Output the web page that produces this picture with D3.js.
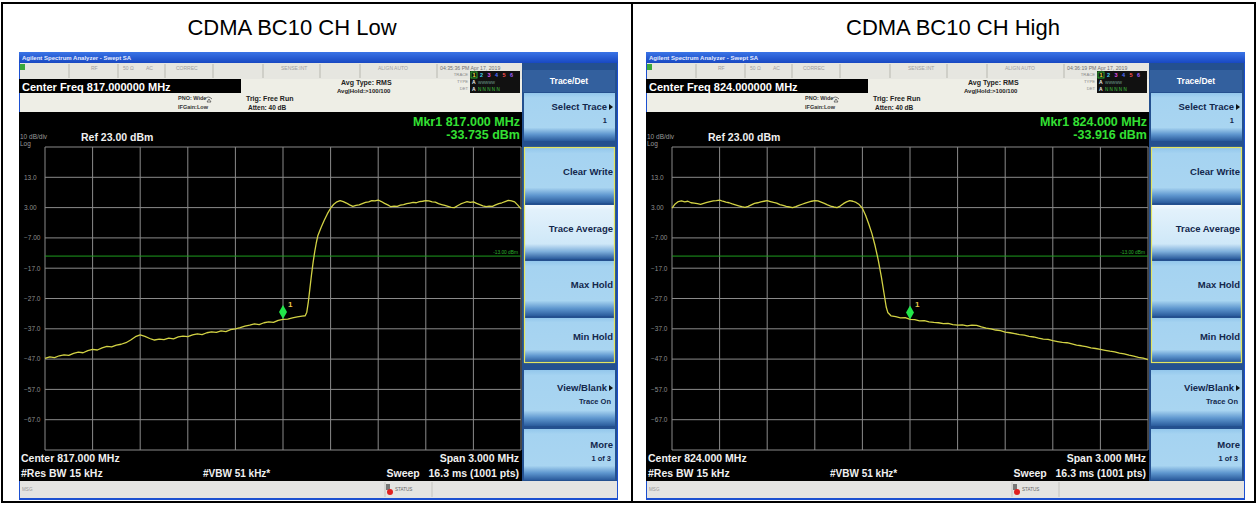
<!DOCTYPE html>
<html>
<head>
<meta charset="utf-8">
<script src="https://cdn.jsdelivr.net/npm/d3@7"></script>
<style>
  body { margin: 0; background: #fff; }
  svg { display: block; font-family: "Liberation Sans", Arial, sans-serif; }
</style>
</head>
<body>
<svg></svg>
<script>
// chart values
var titles = ["CDMA BC10 CH Low", "CDMA BC10 CH High"];
var centers = [817.0, 824.0];
var mkrLevels = [-33.735, -33.916];
var stamps = ["04:35:36 PM Apr 17, 2019", "04:36:19 PM Apr 17, 2019"];
var refLevel = 23;
var limitLevel = -13;
var spanMHz = 3.0;
var yTicks = [13, 3, -7, -17, -27, -37, -47, -57, -67];
var softLabels = [["Select Trace", "1"], ["Clear Write"], ["Trace Average"], ["Max Hold"],
                  ["Min Hold"], ["View/Blank", "Trace On"], ["More", "1 of 3"]];

// [MHz, dBm]
var lowTrace = [
  [815.50,-46.8],[815.53,-46.3],[815.56,-46.5],[815.59,-45.9],[815.62,-45.6],[815.65,-45.8],
  [815.68,-45.1],[815.71,-44.7],[815.74,-44.9],[815.77,-44.2],[815.80,-43.8],[815.83,-44.0],
  [815.86,-43.3],[815.89,-42.8],[815.92,-43.0],[815.95,-42.4],[815.98,-42.1],[816.01,-41.6],
  [816.04,-40.7],[816.07,-39.6],[816.10,-39.0],[816.13,-39.5],[816.16,-40.2],[816.19,-40.7],
  [816.22,-40.4],[816.25,-40.6],[816.28,-40.1],[816.31,-40.3],[816.34,-39.7],[816.37,-39.4],
  [816.40,-39.6],[816.43,-39.0],[816.46,-38.7],[816.49,-38.9],[816.52,-38.3],[816.55,-38.0],
  [816.58,-38.2],[816.61,-37.7],[816.64,-37.9],[816.67,-37.3],[816.70,-37.0],[816.73,-36.6],
  [816.76,-36.1],[816.79,-35.8],[816.82,-35.4],[816.85,-35.6],[816.88,-35.0],[816.91,-34.7],
  [816.94,-34.9],[816.97,-34.2],[817.00,-33.9],[817.03,-33.8],[817.06,-33.4],[817.09,-33.1],
  [817.12,-32.8],[817.14,-32.7],[817.15,-31.5],[817.16,-28.0],[817.17,-23.5],[817.18,-19.0],
  [817.19,-15.0],[817.20,-11.5],[817.21,-8.6],[817.22,-6.2],[817.24,-3.6],[817.26,-1.2],
  [817.28,1.0],[817.30,2.8],[817.32,4.1],[817.34,4.9],[817.36,5.3],[817.38,5.0],[817.40,4.5],
  [817.42,3.9],[817.44,3.4],[817.46,3.7],[817.48,3.9],[817.50,4.3],[817.52,4.7],[817.54,4.9],
  [817.56,5.3],[817.58,5.2],[817.60,5.5],[817.62,5.0],[817.64,4.4],[817.66,3.9],[817.68,3.3],
  [817.70,3.5],[817.72,3.4],[817.74,3.8],[817.76,4.0],[817.78,4.3],[817.80,4.5],[817.82,4.7],
  [817.84,4.6],[817.86,5.0],[817.88,5.1],[817.90,5.3],[817.92,5.2],[817.94,4.9],[817.96,4.8],
  [817.98,4.3],[818.00,4.0],[818.02,3.7],[818.04,3.4],[818.06,3.1],[818.08,3.0],[818.10,3.6],
  [818.12,4.2],[818.14,4.6],[818.16,5.0],[818.18,4.7],[818.20,4.9],[818.22,4.4],[818.24,4.0],
  [818.26,3.6],[818.28,3.3],[818.30,3.5],[818.32,3.4],[818.34,3.9],[818.36,4.3],[818.38,4.6],
  [818.40,5.0],[818.42,5.4],[818.44,5.2],[818.46,4.9],[818.48,3.8],[818.50,2.6]
];

var highTrace = [
  [822.50,2.8],[822.52,4.2],[822.54,5.0],[822.56,5.2],[822.58,4.9],[822.60,5.1],[822.62,4.6],
  [822.64,4.5],[822.66,4.3],[822.68,4.1],[822.70,4.4],[822.72,4.7],[822.74,5.0],[822.76,5.2],
  [822.78,5.3],[822.80,5.5],[822.82,5.1],[822.84,4.8],[822.86,4.6],[822.88,4.2],[822.90,3.9],
  [822.92,3.6],[822.94,3.3],[822.96,3.1],[822.98,3.4],[823.00,3.9],[823.02,4.4],[823.04,4.6],
  [823.06,4.9],[823.08,5.1],[823.10,5.3],[823.12,5.0],[823.14,4.7],[823.16,4.5],[823.18,4.0],
  [823.20,3.7],[823.22,3.4],[823.24,3.2],[823.26,3.0],[823.28,3.3],[823.30,3.7],[823.32,4.1],
  [823.34,4.5],[823.36,4.8],[823.38,5.1],[823.40,5.3],[823.42,5.2],[823.44,4.8],[823.46,4.4],
  [823.48,3.9],[823.50,3.5],[823.52,3.2],[823.54,3.0],[823.56,3.5],[823.58,4.3],[823.60,4.9],
  [823.62,5.3],[823.64,5.1],[823.66,4.7],[823.68,4.0],[823.70,2.8],[823.72,0.5],[823.74,-2.4],
  [823.76,-5.6],[823.78,-9.6],[823.80,-14.3],[823.82,-20.0],[823.84,-26.5],[823.85,-29.8],
  [823.86,-31.6],[823.88,-32.7],[823.91,-33.0],[823.94,-33.4],[823.97,-33.3],[824.00,-33.9],
  [824.03,-34.0],[824.06,-34.4],[824.09,-34.3],[824.12,-34.7],[824.15,-34.9],[824.18,-35.0],
  [824.21,-35.3],[824.24,-35.2],[824.27,-35.6],[824.30,-35.8],[824.33,-35.7],[824.36,-36.0],
  [824.39,-35.8],[824.42,-35.9],[824.45,-36.4],[824.48,-36.8],[824.51,-37.0],[824.54,-37.4],
  [824.57,-37.6],[824.60,-38.1],[824.63,-38.3],[824.66,-38.6],[824.69,-38.9],[824.72,-39.1],
  [824.75,-39.5],[824.78,-39.7],[824.81,-40.1],[824.84,-40.4],[824.87,-40.5],[824.90,-40.9],
  [824.93,-41.2],[824.96,-41.5],[824.99,-41.6],[825.02,-42.0],[825.05,-42.4],[825.08,-42.6],
  [825.11,-42.9],[825.14,-43.3],[825.17,-43.5],[825.20,-43.8],[825.23,-44.1],[825.26,-44.4],
  [825.29,-44.6],[825.32,-45.0],[825.35,-45.3],[825.38,-45.7],[825.41,-46.0],[825.44,-46.4],
  [825.47,-46.7],[825.50,-47.2]
];
var traces = [lowTrace, highTrace];

// layout of one screen (left one), right one is shifted
var config = {
  w: 1258, h: 505,
  scrL: 19, scrR: 618, scrT: 52, scrB: 500,
  gx0: 45, gx1: 521, gy0: 147, gy1: 450
};
var offsets = [0, 627];
var titleX = [292, 953];
var keyBoxes = [[93, 141], [148, 203], [205, 259], [261, 316], [318, 362], [370, 426], [429, 480]];

function translate(x, y) { return "translate(" + x + "," + y + ")"; }

var svg = d3.select("svg").attr("width", config.w).attr("height", config.h);

// gradients for the soft keys
var defs = svg.append("defs");
function grad(id, stops) {
  var lg = defs.append("linearGradient").attr("id", id)
    .attr("x1", 0).attr("y1", 0).attr("x2", 0).attr("y2", 1);
  stops.forEach(function(s) {
    lg.append("stop").attr("offset", s[0]).attr("stop-color", s[1]);
  });
}
grad("btn", [["0%", "#93c7ec"], ["10%", "#a5d3f1"], ["72%", "#a9d5f1"], ["86%", "#5f97cf"], ["100%", "#2a5b9c"]]);
grad("btnSel", [["0%", "#f4fafe"], ["10%", "#e2f1fb"], ["72%", "#cfe8f8"], ["86%", "#7fb0dc"], ["100%", "#2a5b9c"]]);
grad("bar", [["0%", "#3a74e6"], ["100%", "#1848c2"]]);

// outer table frame
svg.append("rect")
  .attr("x", 2).attr("y", 3).attr("width", 1253).attr("height", 499)
  .attr("fill", "none").attr("stroke", "#000").attr("stroke-width", 2);
svg.append("line")
  .attr("x1", 632).attr("x2", 632).attr("y1", 3).attr("y2", 502)
  .attr("stroke", "#000").attr("stroke-width", 2);

titles.forEach(function(t, i) {
  svg.append("text")
    .attr("x", titleX[i]).attr("y", 35)
    .attr("text-anchor", "middle")
    .style("font-size", "22px")
    .text(t);
  drawPanel(i);
});

function txt(g, x, y, s, size, fill, weight, anchor) {
  return g.append("text")
    .attr("x", x).attr("y", y)
    .attr("text-anchor", anchor || "start")
    .style("font-size", size + "px")
    .style("font-weight", weight || "normal")
    .attr("fill", fill)
    .text(s);
}

function drawPanel(i) {
  var g = svg.append("g").attr("transform", translate(offsets[i], 0));
  var c = centers[i];

  var x = d3.scaleLinear()
    .domain([c - spanMHz / 2, c + spanMHz / 2])
    .range([config.gx0, config.gx1]);
  var y = d3.scaleLinear()
    .domain([refLevel - 100, refLevel])
    .range([config.gy1, config.gy0]);

  // window frame + title bar
  g.append("rect").attr("x", config.scrL).attr("y", config.scrT)
    .attr("width", config.scrR - config.scrL).attr("height", config.scrB - config.scrT)
    .attr("fill", "#1b4fd0");
  g.append("rect").attr("x", config.scrL).attr("y", config.scrT)
    .attr("width", config.scrR - config.scrL).attr("height", 11)
    .attr("fill", "url(#bar)");
  txt(g, 22, 60, "Agilent Spectrum Analyzer - Swept SA", 6, "#e6ecff", "bold");

  // status row
  g.append("rect").attr("x", 20).attr("y", 63).attr("width", 502).attr("height", 16).attr("fill", "#e6e6e0");
  g.append("rect").attr("x", 20).attr("y", 64).attr("width", 5).attr("height", 6).attr("fill", "#3aa83a");
  [69, 118, 165, 213, 263, 320, 360, 437].forEach(function(sx) {
    g.append("line").attr("x1", sx).attr("x2", sx).attr("y1", 64).attr("y2", 78)
      .attr("stroke", "#b8b8b0");
  });
  [[91, "RF"], [123, "50 \u03a9"], [146, "AC"], [176, "CORREC"], [281, "SENSE:INT"], [378, "ALIGN AUTO"]]
    .forEach(function(s) { txt(g, s[0], 70, s[1], 5, "#a0a0a0"); });
  txt(g, 440, 70, stamps[i], 5.2, "#707070");

  // header area
  g.append("rect").attr("x", 20).attr("y", 79).attr("width", 502).attr("height", 33).attr("fill", "#eeeee6");
  g.append("rect").attr("x", 19).attr("y", 79).attr("width", 222).attr("height", 14).attr("fill", "#000");
  txt(g, 22, 90.5, "Center Freq " + c.toFixed(6) + " MHz", 11, "#fff", "bold");
  txt(g, 178, 100, "PNO: Wide", 5.5, "#333", "bold");
  txt(g, 178, 109, "IFGain:Low", 5.5, "#333", "bold");
  g.append("path").attr("d", "M205,99 q3,-4 7,0 M209,99 l-2,3 l4,0 z")
    .attr("fill", "none").attr("stroke", "#555").attr("stroke-width", 0.8);
  txt(g, 246, 101, "Trig: Free Run", 7, "#222", "bold");
  txt(g, 248, 110, "Atten: 40 dB", 6.5, "#222", "bold");
  txt(g, 341, 85, "Avg Type: RMS", 7, "#222", "bold");
  txt(g, 337, 93, "Avg|Hold:>100/100", 6, "#222", "bold");

  // trace indicator box
  txt(g, 468, 76, "TRACE", 4.2, "#888", "normal", "end");
  txt(g, 468, 83, "TYPE", 4.2, "#888", "normal", "end");
  txt(g, 468, 90, "DET", 4.2, "#888", "normal", "end");
  g.append("rect").attr("x", 470).attr("y", 71).attr("width", 50).attr("height", 22).attr("fill", "#111");
  g.append("rect").attr("x", 471).attr("y", 72).attr("width", 6).attr("height", 6)
    .attr("fill", "none").attr("stroke", "#3c3").attr("stroke-width", 0.8);
  ["#e8e8e8", "#44d0f0", "#e050e0", "#5070ff", "#ff5050", "#a060ff"].forEach(function(col, k) {
    txt(g, 472.5 + k * 7.5, 77, String(k + 1), 5.5, k === 0 ? "#e8e040" : col, "bold");
  });
  txt(g, 472, 84, "A", 5, "#eee", "bold");
  txt(g, 478, 84, "WWWWW", 3.6, "#7a9", "normal");
  txt(g, 472, 91, "A", 5, "#eee", "bold");
  txt(g, 478, 91, "N N N N N", 4.6, "#4c4", "normal");

  // screen
  g.append("rect").attr("x", 19).attr("y", 112).attr("width", 504).attr("height", 369).attr("fill", "#000");
  txt(g, 20, 139, "10 dB/div", 6.5, "#9a9a9a");
  txt(g, 20, 146, "Log", 6.5, "#9a9a9a");
  txt(g, 81, 141, "Ref " + refLevel.toFixed(2) + " dBm", 10.5, "#f0f0f0", "bold");
  txt(g, 520, 126, "Mkr1 " + c.toFixed(3) + " MHz", 12.5, "#34e034", "bold", "end");
  txt(g, 520, 139, mkrLevels[i].toFixed(3) + " dBm", 12.5, "#34e034", "bold", "end");

  // grid
  var grid = g.append("g").attr("class", "grid");
  var vt = d3.range(11).map(function(k) { return c - spanMHz / 2 + k * spanMHz / 10; });
  grid.selectAll("line.v").data(vt).enter().append("line")
    .attr("x1", x).attr("x2", x)
    .attr("y1", config.gy0).attr("y2", config.gy1)
    .attr("stroke", "#8a8a8a").attr("stroke-width", 1);
  var ht = [refLevel].concat(yTicks, [refLevel - 100]);
  grid.selectAll("line.h").data(ht).enter().append("line")
    .attr("x1", config.gx0).attr("x2", config.gx1)
    .attr("y1", y).attr("y2", y)
    .attr("stroke", "#8a8a8a").attr("stroke-width", 1);
  grid.selectAll("text").data(yTicks).enter().append("text")
    .attr("x", 24).attr("y", function(d) { return y(d) + 2.3; })
    .style("font-size", "6.5px").attr("fill", "#8e8e8e")
    .text(d3.format(".3r"));

  // limit line
  g.append("line")
    .attr("x1", config.gx0).attr("x2", config.gx1)
    .attr("y1", y(limitLevel)).attr("y2", y(limitLevel))
    .attr("stroke", "#1e9e1e").attr("stroke-width", 1);
  txt(g, 518, y(limitLevel) - 2, limitLevel.toFixed(2) + " dBm", 4.8, "#2cb02c", "normal", "end");

  // trace
  var line = d3.line()
    .x(function(d) { return x(d[0]); })
    .y(function(d) { return y(d[1]); });
  g.append("path").datum(traces[i])
    .attr("d", line)
    .attr("fill", "none")
    .attr("stroke", "#d2d244")
    .attr("stroke-width", 1.3)
    .attr("stroke-linejoin", "round");

  // marker
  var mx = x(c), my = y(mkrLevels[i]) - 7;
  g.append("path")
    .attr("d", "M" + mx + "," + (my - 7) + " L" + (mx + 4) + "," + my + " L" + mx + "," + (my + 7) + " L" + (mx - 4) + "," + my + "Z")
    .attr("fill", "#22e64a");
  txt(g, mx + 5, my - 5, "1", 8, "#e6c74a", "bold");

  // bottom annotations
  txt(g, 21, 462, "Center " + c.toFixed(3) + " MHz", 10.5, "#f0f0f0", "bold");
  txt(g, 21, 477, "#Res BW 15 kHz", 10.5, "#f0f0f0", "bold");
  txt(g, 203, 477, "#VBW 51 kHz*", 10, "#f0f0f0", "bold");
  txt(g, 519, 462, "Span " + spanMHz.toFixed(3) + " MHz", 10.5, "#f0f0f0", "bold", "end");
  txt(g, 519, 477, "Sweep\u00a0\u00a0 16.3 ms (1001 pts)", 10.5, "#f0f0f0", "bold", "end");

  // message bar
  g.append("rect").attr("x", 20).attr("y", 481).attr("width", 597).attr("height", 17).attr("fill", "#e4e4e2");
  txt(g, 22, 491, "MSG", 4.6, "#999");
  [385, 432].forEach(function(sx) {
    g.append("line").attr("x1", sx).attr("x2", sx).attr("y1", 482).attr("y2", 497).attr("stroke", "#c4c4c0");
  });
  g.append("rect").attr("x", 386).attr("y", 484).attr("width", 4).attr("height", 6).attr("fill", "#777");
  g.append("circle").attr("cx", 390).attr("cy", 492).attr("r", 3).attr("fill", "#e02020");
  txt(g, 395, 491, "STATUS", 4.6, "#666");

  // soft keys
  g.append("rect").attr("x", 522).attr("y", 63).attr("width", 95).attr("height", 418).attr("fill", "#24508f");
  g.append("rect").attr("x", 523).attr("y", 70).attr("width", 92).attr("height", 22).attr("fill", "#33609e");
  txt(g, 569, 84, "Trace/Det", 8.5, "#fff", "bold", "middle");
  keyBoxes.forEach(function(b, k) {
    g.append("rect").attr("x", 524).attr("y", b[0])
      .attr("width", 91).attr("height", b[1] - b[0])
      .attr("fill", k === 2 ? "url(#btnSel)" : "url(#btn)");
    var lab = softLabels[k];
    var arrow = (k === 0 || k === 5);
    var ex = arrow ? 607 : 613;
    var mid = (b[0] + b[1]) / 2 - 4;
    if (lab.length === 1) {
      txt(g, ex, mid + 3.5, lab[0], 9.5, "#13274c", "bold", "end");
    } else {
      txt(g, ex, mid - 3, lab[0], 9.5, "#13274c", "bold", "end");
      txt(g, k === 0 ? 607 : 611, mid + 10, lab[1], 7.5, "#13274c", "bold", "end");
    }
    if (arrow) {
      g.append("path").attr("d", "M609," + (mid - 9) + " l4,3 l-4,3 z").attr("fill", "#111");
    }
  });
  g.append("rect").attr("x", 524.5).attr("y", 147.5).attr("width", 90).attr("height", 215)
    .attr("fill", "none").attr("stroke", "#e4e460").attr("stroke-width", 1.2);
}
</script>
</body>
</html>
